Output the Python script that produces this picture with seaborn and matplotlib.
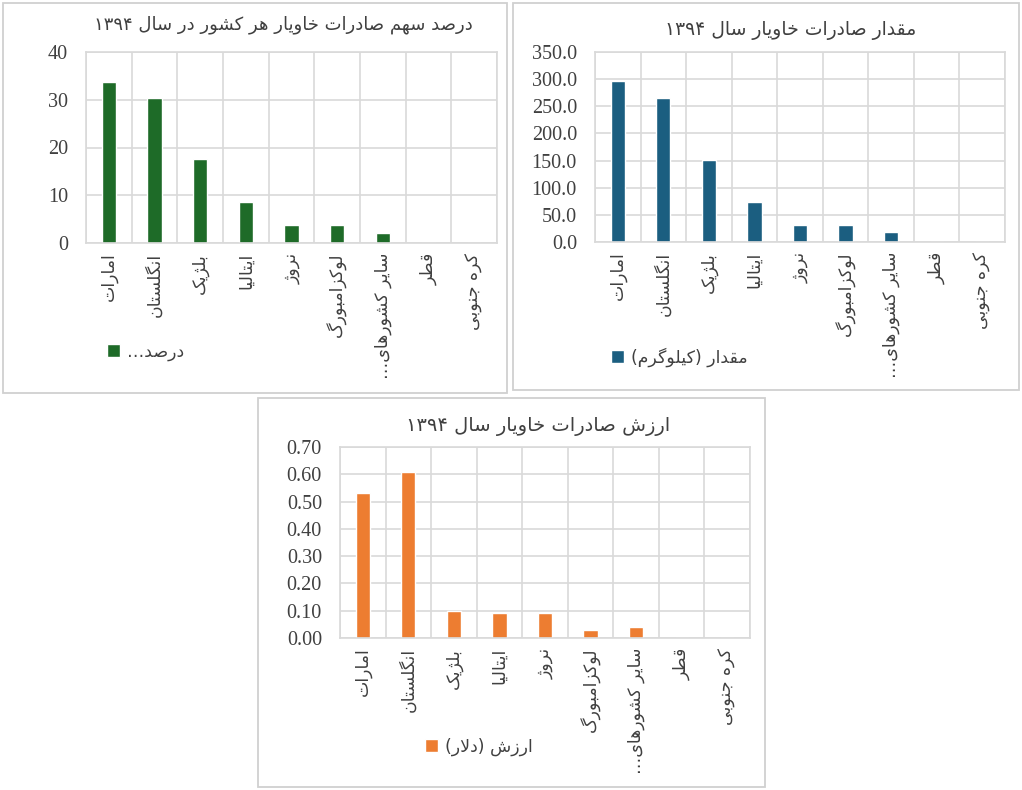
import re
import numpy as np
import pandas as pd
import matplotlib
matplotlib.use("Agg")
import matplotlib.pyplot as plt
from matplotlib.patches import Rectangle, Patch
import seaborn as sns

# ---------------- data ----------------
categories = ["امارات", "انگلستان", "بلژیک", "ایتالیا", "نروژ", "لوکزامبورگ",
              "سایر کشورهای…", "قطر", "کره جنوبی"]
percent_values = [33.8, 30.3, 17.5, 8.5, 3.8, 3.8, 2.0, 0.0, 0.0]
quantity_values = [296.0, 265.0, 151.0, 74.0, 32.0, 32.0, 18.0, 0.0, 0.0]
value_values = [0.53, 0.61, 0.10, 0.09, 0.09, 0.03, 0.04, 0.0, 0.0]
titles = ["درصد سهم صادرات خاویار هر کشور در سال ۱۳۹۴",
          "مقدار صادرات خاویار سال ۱۳۹۴",
          "ارزش صادرات خاویار سال ۱۳۹۴"]
legend_labels = ["درصد…", "مقدار (کیلوگرم)", "ارزش (دلار)"]
percent_ticks = [0, 10, 20, 30, 40]
quantity_ticks = [0, 50, 100, 150, 200, 250, 300, 350]
value_ticks = [0.0, 0.1, 0.2, 0.3, 0.4, 0.5, 0.6, 0.7]

# ------------- minimal Persian shaping (matplotlib has no text shaping) -------------
FORMS = {
    '\u0627': ('\uFE8D', '\uFE8E'),
    '\u0628': ('\uFE8F', '\uFE90', '\uFE91', '\uFE92'),
    '\u062A': ('\uFE95', '\uFE96', '\uFE97', '\uFE98'),
    '\u062C': ('\uFE9D', '\uFE9E', '\uFE9F', '\uFEA0'),
    '\u062E': ('\uFEA5', '\uFEA6', '\uFEA7', '\uFEA8'),
    '\u062F': ('\uFEA9', '\uFEAA'),
    '\u0631': ('\uFEAD', '\uFEAE'),
    '\u0632': ('\uFEAF', '\uFEB0'),
    '\u0698': ('\uFB8A', '\uFB8B'),
    '\u0633': ('\uFEB1', '\uFEB2', '\uFEB3', '\uFEB4'),
    '\u0634': ('\uFEB5', '\uFEB6', '\uFEB7', '\uFEB8'),
    '\u0635': ('\uFEB9', '\uFEBA', '\uFEBB', '\uFEBC'),
    '\u0637': ('\uFEC1', '\uFEC2', '\uFEC3', '\uFEC4'),
    '\u0642': ('\uFED5', '\uFED6', '\uFED7', '\uFED8'),
    '\u06A9': ('\uFB8E', '\uFB8F', '\uFB90', '\uFB91'),
    '\u06AF': ('\uFB92', '\uFB93', '\uFB94', '\uFB95'),
    '\u0644': ('\uFEDD', '\uFEDE', '\uFEDF', '\uFEE0'),
    '\u0645': ('\uFEE1', '\uFEE2', '\uFEE3', '\uFEE4'),
    '\u0646': ('\uFEE5', '\uFEE6', '\uFEE7', '\uFEE8'),
    '\u0647': ('\uFEE9', '\uFEEA', '\uFEEB', '\uFEEC'),
    '\u0648': ('\uFEED', '\uFEEE'),
    '\u06CC': ('\uFBFC', '\uFBFD', '\uFBFE', '\uFBFF'),
}


def shape(text):
    text = text.replace('\u064A', '\u06CC').replace('\u0643', '\u06A9')
    out = []
    n = len(text)
    i = 0
    while i < n:
        c = text[i]
        if c in FORMS:
            prev = text[i - 1] if i > 0 else ''
            pj = prev in FORMS and len(FORMS[prev]) == 4
            if c == '\u0644' and i + 1 < n and text[i + 1] == '\u0627':
                out.append('\uFEFC' if pj else '\uFEFB')
                i += 2
                continue
            nxt = text[i + 1] if i + 1 < n else ''
            f = FORMS[c]
            nj = len(f) == 4 and nxt in FORMS
            if pj and nj:
                g = f[3]
            elif pj:
                g = f[1]
            elif nj:
                g = f[2]
            else:
                g = f[0]
            out.append(g)
        else:
            out.append(c)
        i += 1
    vis = ''.join(out)[::-1]
    vis = re.sub(r'[0-9\u06F0-\u06F9.]+', lambda m: m.group(0)[::-1], vis)
    vis = vis.translate(str.maketrans('()', ')('))
    return vis


# ---------------- style ----------------
sns.set_style("white")
plt.rcParams['font.family'] = ['DejaVu Sans']

GRID = '#d9d9d9'
TXT = '#404040'

fig = plt.figure(figsize=(10.22, 7.90), dpi=100)
W, H = 1022.0, 790.0


def fx(px):
    return px / W


def fy(py):
    return 1 - py / H


def panel(box, axbox, values, color, ticks, fmt, title, title_xy, title_fs, leg, leg_xy):
    x0, y0, x1, y1 = box
    fig.add_artist(Rectangle((fx(x0), fy(y1)), fx(x1) - fx(x0), fy(y0) - fy(y1),
                             transform=fig.transFigure, fill=False,
                             edgecolor='#d0d0d0', lw=1.3))
    l, t, r, b = axbox
    ax = fig.add_axes([fx(l), fy(b), fx(r) - fx(l), fy(t) - fy(b)])
    df = pd.DataFrame({'country': [shape(c) for c in categories], 'v': values})
    sns.barplot(data=df, x='country', y='v', color=color, saturation=1,
                width=0.31, ax=ax)
    ax.set_xlabel('')
    ax.set_ylabel('')
    ax.set_xlim(-0.5, len(categories) - 0.5)
    ax.set_ylim(ticks[0], ticks[-1])
    ax.set_yticks(ticks)
    ax.set_yticklabels([fmt.format(v) for v in ticks], fontfamily='Liberation Serif',
                       fontsize=14.5, color=TXT)
    ax.set_xticks(range(len(categories)))
    ax.set_xticklabels(df['country'], rotation=90, fontsize=12.5, color=TXT)
    ax.set_xticks(np.arange(-0.5, len(categories), 1.0), minor=True)
    ax.tick_params(axis='y', length=0, pad=13)
    ax.tick_params(axis='x', which='major', length=0, pad=7)
    ax.tick_params(axis='x', which='minor', length=5, width=1.2, color=GRID)
    ax.grid(False)
    ax.grid(axis='y', which='major', color=GRID, lw=1.2)
    ax.grid(axis='x', which='minor', color=GRID, lw=1.2)
    ax.set_axisbelow(True)
    for s in ax.spines.values():
        s.set_visible(True)
        s.set_color(GRID)
        s.set_linewidth(1.2)
    fig.text(fx(title_xy[0]), fy(title_xy[1]), shape(title), ha='center', va='center',
             fontsize=title_fs, color=TXT)
    fig.legend(handles=[Patch(facecolor=color)], labels=[shape(leg)], loc='center',
               bbox_to_anchor=(fx(leg_xy[0]), fy(leg_xy[1])), frameon=False,
               fontsize=12.5, handlelength=0.75, handleheight=0.75,
               handletextpad=0.4, labelcolor=TXT)
    return ax


panel((3, 3, 507, 393), (86, 52, 497, 243), percent_values, '#1E6B28',
      percent_ticks, '{:.0f}', titles[0], (283, 25), 13, legend_labels[0], (146, 352))
panel((513, 3, 1019, 390), (595, 52, 1005, 242), quantity_values, '#1B5E80',
      quantity_ticks, '{:.1f}', titles[1], (791, 30), 13.5, legend_labels[1], (679, 357))
panel((258, 398, 765, 787), (340, 447, 750, 638), value_values, '#ED7D31',
      value_ticks, '{:.2f}', titles[2], (538, 427), 14, legend_labels[2], (479, 747))

fig.savefig('out.png', dpi=100)
